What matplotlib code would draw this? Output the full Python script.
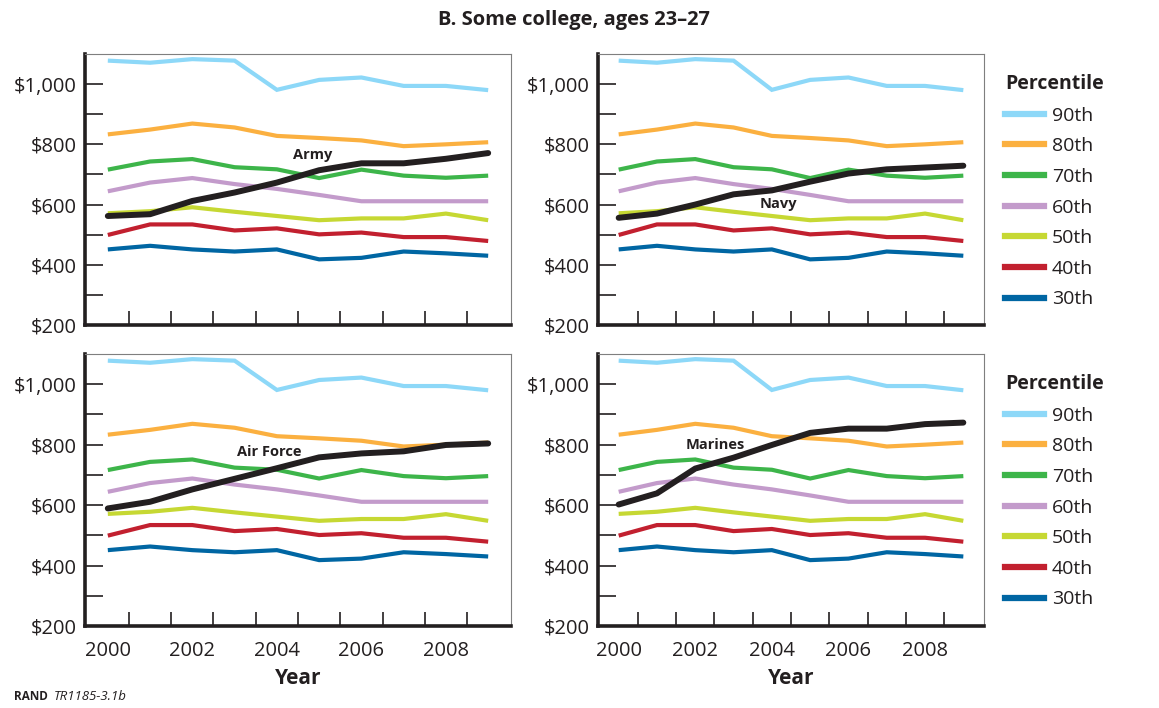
import matplotlib
matplotlib.use("Agg")
import matplotlib.pyplot as plt
from matplotlib.ticker import FixedLocator, FuncFormatter

plt.rcParams['font.family'] = ['Open Sans', 'DejaVu Sans']

years = list(range(2000, 2010))
percentile_labels = ["90th", "80th", "70th", "60th", "50th", "40th", "30th"]
p90 = [1078, 1071, 1083, 1078, 981, 1014, 1022, 994, 994, 980]
p80 = [833, 849, 869, 856, 828, 821, 813, 794, 800, 807]
p70 = [716, 743, 751, 724, 717, 688, 716, 696, 689, 696]
p60 = [644, 673, 688, 668, 652, 632, 611, 611, 611, 611]
p50 = [571, 578, 591, 576, 562, 548, 554, 554, 570, 548]
p40 = [499, 534, 534, 514, 521, 501, 507, 492, 492, 479]
p30 = [451, 463, 451, 444, 451, 418, 423, 444, 438, 430]
percentiles = [p90, p80, p70, p60, p50, p40, p30]
colors = ["#8dd8f8", "#fbb040", "#3db54a", "#c39bcb", "#c6d833", "#c2202f", "#0066a3"]

army = [562, 568, 612, 640, 673, 714, 737, 737, 752, 771]
navy = [556, 570, 600, 634, 647, 676, 703, 717, 723, 729]
air_force = [589, 611, 652, 687, 722, 758, 771, 778, 799, 804]
marines = [602, 639, 721, 757, 799, 839, 853, 853, 868, 873]
services = ["Army", "Navy", "Air Force", "Marines"]
service_data = [army, navy, air_force, marines]
label_pos = [(2004.84, 764), (2004.17, 601), (2003.82, 777), (2002.53, 800)]

y_ticks = [200, 400, 600, 800, 1000]
y_minor = [300, 500, 700, 900]
x_labels = [2000, 2002, 2004, 2006, 2008]
x_marks = [y + 0.5 for y in range(2000, 2009)]

dark = "#231f20"
fig = plt.figure(figsize=(11.59, 7.08), dpi=100)
W, H = 1159, 708
boxes = [(85, 54, 511, 325), (598, 54, 984, 325), (85, 354, 511, 626), (598, 354, 984, 626)]

for i, (l, t, r, b) in enumerate(boxes):
    ax = fig.add_axes([l / W, 1 - b / H, (r - l) / W, (b - t) / H])
    for vals, c in zip(percentiles, colors):
        ax.plot(years, vals, color=c, lw=3.0, solid_capstyle='butt', solid_joinstyle='miter')
    ax.plot(years, service_data[i], color=dark, lw=4.3, solid_capstyle='round', zorder=5)
    ax.text(label_pos[i][0], label_pos[i][1], services[i], fontsize=10.5, fontweight='bold',
            color=dark, ha='center', va='center', zorder=6)
    ax.set_xlim(1999.46, 2009.54)
    ax.set_ylim(200, 1100)
    ax.yaxis.set_major_locator(FixedLocator(y_ticks))
    ax.yaxis.set_minor_locator(FixedLocator(y_minor))
    ax.yaxis.set_major_formatter(FuncFormatter(lambda v, p: "${:,.0f}".format(v)))
    ax.tick_params(axis='y', which='both', direction='in', length=13, width=1.2, color=dark,
                   labelsize=14.5, labelcolor=dark, pad=6)
    ax.xaxis.set_major_locator(FixedLocator(x_labels))
    ax.xaxis.set_minor_locator(FixedLocator(x_marks))
    ax.tick_params(axis='x', which='major', length=0, labelsize=14.5, labelcolor=dark, pad=11)
    ax.tick_params(axis='x', which='minor', direction='in', length=10, width=1.2, color=dark)
    if i < 2:
        ax.set_xticklabels([])
    else:
        ax.set_xlabel("Year", fontsize=15, fontweight='bold', color=dark, labelpad=5)
    for s in ['left', 'bottom']:
        ax.spines[s].set_linewidth(2.6)
        ax.spines[s].set_color(dark)
    for s in ['top', 'right']:
        ax.spines[s].set_linewidth(0.8)
        ax.spines[s].set_color("#7f7f7f")
    if i in (1, 3):
        handles = [plt.Line2D([], [], color=c, lw=4.5) for c in colors]
        leg = ax.legend(handles, percentile_labels, title="Percentile", loc='upper left',
                        bbox_to_anchor=(1005 / W, 1 - (74 + (i // 2) * 300) / H),
                        bbox_transform=fig.transFigure, frameon=False, fontsize=14,
                        title_fontsize=14, handlelength=2.0, handletextpad=0.4,
                        labelspacing=0.65, borderpad=0, borderaxespad=0)
        leg.get_title().set_fontweight('bold')
        leg.get_title().set_color(dark)
        leg._legend_box.align = "left"
        for tx in leg.get_texts():
            tx.set_color(dark)

fig.text(574 / W, 1 - 20 / H, "B. Some college, ages 23\u201327", ha='center', va='center',
         fontsize=14.5, fontweight='bold', color=dark)
fig.text(14 / W, 1 - 696 / H, "RAND", ha='left', va='center', fontsize=8.5, fontweight='bold', color=dark)
fig.text(54 / W, 1 - 696 / H, "TR1185-3.1b", ha='left', va='center', fontsize=9.5, style='italic', color=dark)

fig.savefig("out.png", dpi=100)
